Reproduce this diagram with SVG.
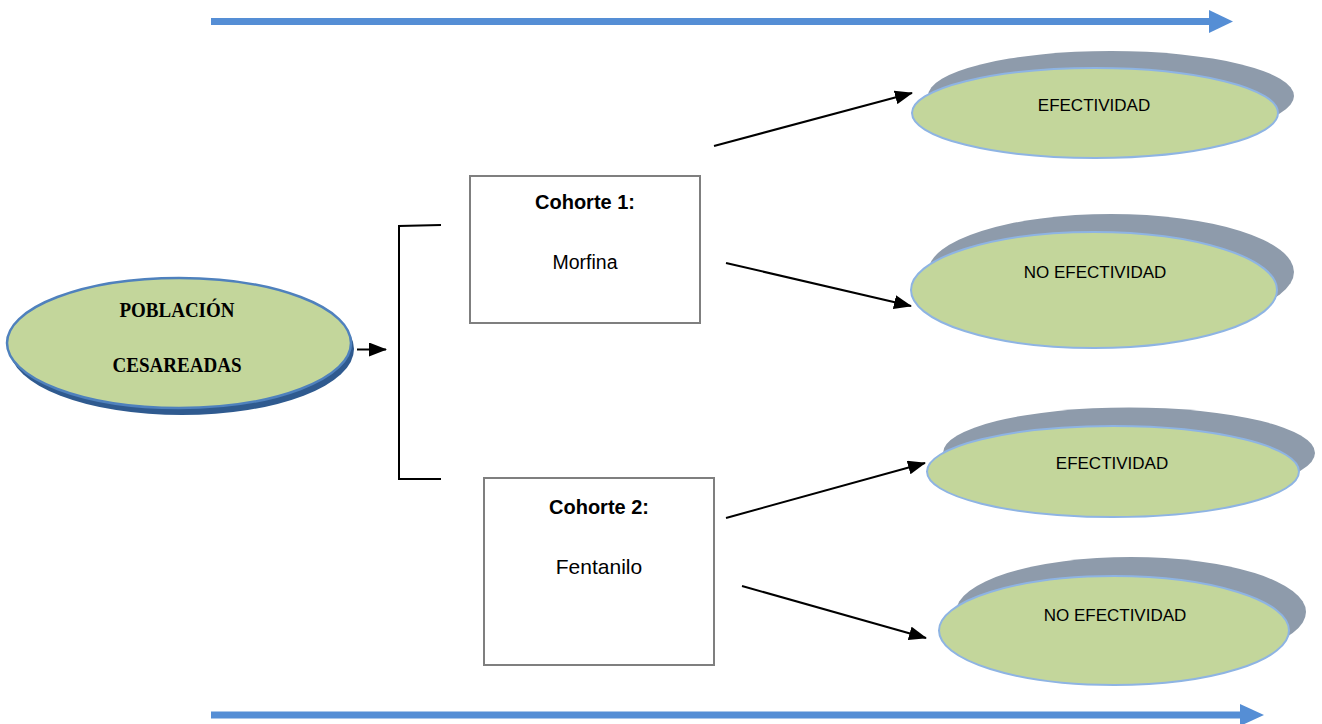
<svg xmlns="http://www.w3.org/2000/svg" width="1322" height="724" viewBox="0 0 1322 724">
<defs>
<marker id="ah" markerUnits="userSpaceOnUse" markerWidth="18" markerHeight="14" refX="17" refY="7" orient="auto">
<path d="M0,0 L18,7 L0,14 Z" fill="#000"/>
</marker>
<style>
.blue{stroke:#558ED5;stroke-width:7;fill:none}
.bluehead{fill:#558ED5}
.shadow{fill:#8E9BAB}
.oval{fill:#C3D69B;stroke:#8EB4E3;stroke-width:2}
.otext{font-family:"Liberation Sans",Arial,sans-serif;font-size:17px;fill:#000;text-anchor:middle}
.box{fill:#fff;stroke:#7F7F7F;stroke-width:2}
.bh{font-family:"Liberation Sans",Arial,sans-serif;font-size:20px;font-weight:bold;fill:#000;text-anchor:middle}
.bt{font-family:"Liberation Sans",Arial,sans-serif;fill:#000;text-anchor:middle}
.pt{font-family:"Liberation Serif","Times New Roman",serif;font-size:21px;font-weight:bold;fill:#000;text-anchor:middle}
.conn{stroke:#000;stroke-width:2;fill:none}
</style>
</defs>
<rect width="1322" height="724" fill="#fff"/>

<g id="timeline-top">
<line class="blue" x1="211" y1="21.5" x2="1210" y2="21.5"/>
<polygon class="bluehead" points="1209,10 1233,21.5 1209,33"/>
</g>
<g id="timeline-bottom">
<line class="blue" x1="211" y1="715" x2="1241" y2="715"/>
<polygon class="bluehead" points="1240,704 1264,715 1240,726"/>
</g>

<g id="poblacion">
<ellipse cx="182" cy="349" rx="172" ry="66" fill="#2F5A8F"/>
<ellipse cx="179" cy="343" rx="172" ry="65" fill="#C3D69B" stroke="#4F81BD" stroke-width="2.5"/>
<text class="pt" x="177" y="317" textLength="115" lengthAdjust="spacingAndGlyphs">POBLACIÓN</text>
<text class="pt" x="177" y="372" textLength="129" lengthAdjust="spacingAndGlyphs">CESAREADAS</text>
</g>

<g id="cohorte1">
<rect class="box" x="470" y="176" width="230" height="147"/>
<text class="bh" x="585" y="209">Cohorte 1:</text>
<text class="bt" x="585" y="269" font-size="19.5">Morfina</text>
</g>

<g id="cohorte2">
<rect class="box" x="484" y="478" width="230" height="187"/>
<text class="bh" x="599" y="514">Cohorte 2:</text>
<text class="bt" x="599" y="574" font-size="21">Fentanilo</text>
</g>

<g id="efectividad1">
<ellipse class="shadow" cx="1111" cy="96" rx="183" ry="45"/>
<ellipse class="oval" cx="1095" cy="113" rx="183" ry="45"/>
<text class="otext" x="1094" y="111">EFECTIVIDAD</text>
</g>

<g id="noefectividad1">
<ellipse class="shadow" cx="1111" cy="272" rx="183" ry="58"/>
<ellipse class="oval" cx="1094" cy="290" rx="183" ry="58"/>
<text class="otext" x="1095" y="278">NO EFECTIVIDAD</text>
</g>

<g id="efectividad2">
<ellipse class="shadow" cx="1129" cy="453" rx="186" ry="45.5"/>
<ellipse class="oval" cx="1113" cy="471.5" rx="186" ry="45.5"/>
<text class="otext" x="1112" y="469">EFECTIVIDAD</text>
</g>

<g id="noefectividad2">
<ellipse class="shadow" cx="1131" cy="612" rx="175" ry="55"/>
<ellipse class="oval" cx="1114" cy="630.5" rx="175" ry="54.5"/>
<text class="otext" x="1115" y="621">NO EFECTIVIDAD</text>
</g>

<g id="connectors">
<line class="conn" x1="357" y1="349.5" x2="386" y2="349.5" marker-end="url(#ah)"/>
<polyline class="conn" points="441,225 399,226 399,479 441,479"/>
<line class="conn" x1="714" y1="146" x2="912" y2="93" marker-end="url(#ah)"/>
<line class="conn" x1="726" y1="263" x2="911" y2="306" marker-end="url(#ah)"/>
<line class="conn" x1="726" y1="518" x2="925" y2="463" marker-end="url(#ah)"/>
<line class="conn" x1="742" y1="586" x2="926" y2="638" marker-end="url(#ah)"/>
</g>
</svg>
